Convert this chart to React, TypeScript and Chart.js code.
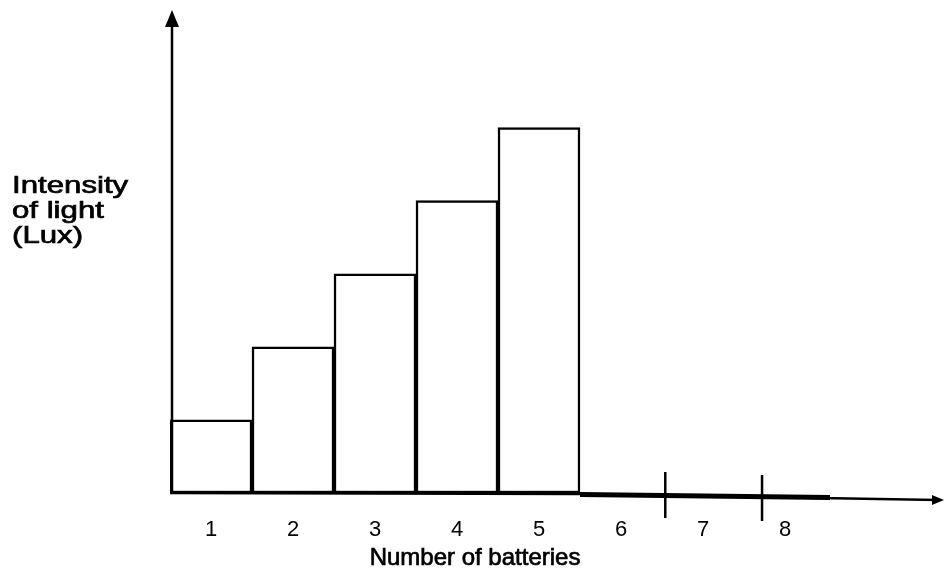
import React, { useEffect, useRef } from "react";
import { Chart, registerables } from "chart.js";

Chart.register(...registerables);

const categories = ["1", "2", "3", "4", "5", "6", "7", "8"];
const intensity = [1, 2, 3, 4, 5, 0, 0, 0];
const yLabelLines = ["Intensity", "of light", "(Lux)"];
const xTitle = "Number of batteries";
const axisTickMarks = [5.54, 6.72];

const FONT = "'Liberation Sans', Arial, sans-serif";

const decorPlugin = {
  id: "decor",
  afterDatasetsDraw(chart: any) {
    const { ctx, chartArea, scales } = chart;
    const x = scales.x;
    const y = scales.y;
    const base = y.getPixelForValue(0);
    const left = chartArea.left + 2;
    ctx.save();
    ctx.strokeStyle = "#000";
    ctx.fillStyle = "#000";
    ctx.lineCap = "butt";

    // y axis
    ctx.lineWidth = 2.5;
    ctx.beginPath();
    ctx.moveTo(left, base + 1);
    ctx.lineTo(left, 24);
    ctx.stroke();
    ctx.beginPath();
    ctx.moveTo(left, 10);
    ctx.lineTo(left - 7, 27);
    ctx.lineTo(left + 7, 27);
    ctx.closePath();
    ctx.fill();

    // x axis (slightly skewed like the scan)
    const endX = chart.width - 6;
    ctx.lineWidth = 2.5;
    ctx.beginPath();
    ctx.moveTo(chartArea.left, base);
    ctx.lineTo(x.getPixelForValue(4.5), base + 1);
    ctx.lineTo(endX, base + 7);
    ctx.stroke();
    // thick segment
    ctx.lineWidth = 5;
    ctx.beginPath();
    ctx.moveTo(x.getPixelForValue(4.5), base + 1.5);
    ctx.lineTo(chartArea.right + 4, base + 4.5);
    ctx.stroke();
    // arrow head
    ctx.beginPath();
    ctx.moveTo(chart.width, base + 7);
    ctx.lineTo(endX - 6, base + 2);
    ctx.lineTo(endX - 6, base + 12);
    ctx.closePath();
    ctx.fill();

    // tick marks
    ctx.lineWidth = 2.5;
    axisTickMarks.forEach((v, i) => {
      const px = x.getPixelForValue(v);
      ctx.beginPath();
      ctx.moveTo(px, base - 21 + i * 3);
      ctx.lineTo(px, base + 25 + i * 3);
      ctx.stroke();
    });

    // y label
    ctx.font = `24px ${FONT}`;
    ctx.textAlign = "left";
    ctx.textBaseline = "alphabetic";
    ctx.lineWidth = 0.7;
    yLabelLines.forEach((t, i) => {
      ctx.save();
      ctx.translate(12, 193 + i * 25);
      ctx.scale(1.3, 1);
      ctx.fillText(t, 0, 0);
      ctx.strokeText(t, 0, 0);
      ctx.restore();
    });

    // x title
    ctx.font = `24px ${FONT}`;
    ctx.textAlign = "center";
    const tx = x.getPixelForValue(3.22);
    ctx.fillText(xTitle, tx, 565);
    ctx.strokeText(xTitle, tx, 565);
    ctx.restore();
  },
};

export default function App() {
  const ref = useRef<HTMLCanvasElement>(null);
  useEffect(() => {
    if (!ref.current) return;
    const chart = new Chart(ref.current, {
      type: "bar",
      data: {
        labels: categories,
        datasets: [
          {
            data: intensity,
            backgroundColor: "#ffffff",
            borderColor: "#000000",
            borderWidth: 2.5,
            borderSkipped: false,
            barPercentage: 1,
            categoryPercentage: 1,
          },
        ],
      },
      options: {
        responsive: false,
        animation: false,
        layout: { padding: { left: 170, right: 118, top: 18, bottom: 0 } },
        plugins: { legend: { display: false }, tooltip: { enabled: false } },
        scales: {
          x: {
            grid: { display: false, drawTicks: false },
            border: { display: false },
            ticks: {
              color: "#000",
              padding: 24,
              font: { family: FONT, size: 22 },
              maxRotation: 0,
            },
            afterFit(scale: any) {
              scale.height = 93;
            },
          },
          y: {
            display: false,
            min: 0,
            max: 6.5,
          },
        },
      },
      plugins: [decorPlugin],
    });
    return () => chart.destroy();
  }, []);
  return (
    <div style={{ position: "absolute", left: 0, top: 0, width: 944, height: 586, background: "#fff" }}>
      <canvas ref={ref} width={944} height={586} />
    </div>
  );
}
